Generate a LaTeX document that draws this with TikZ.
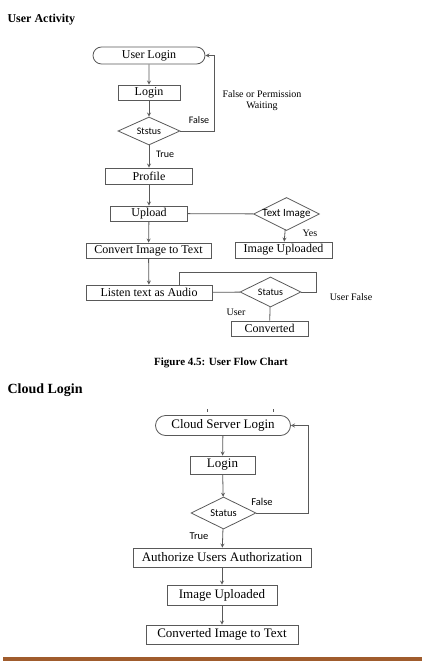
\documentclass[tikz,border=0pt]{standalone}
\usepackage{fontspec}
\setmainfont{Liberation Serif}
\newfontfamily\lblfont{Carlito}
\usepackage{tikz}
\usetikzlibrary{shapes.geometric,shapes.misc}

\definecolor{linegray}{gray}{0.35}
\definecolor{rulebrown}{RGB}{160,92,45}

\begin{document}
\begin{tikzpicture}[x=1pt,y=-1pt,>=stealth,
    box/.style={draw=linegray,thick,inner sep=0pt,minimum height=15pt,font=\fontsize{12}{14}\selectfont},
    term/.style={draw=linegray,thick,rounded rectangle,inner sep=0pt,font=\fontsize{12}{14}\selectfont},
    decision/.style={draw=linegray,thick,diamond,aspect=2,inner sep=0pt,font=\lblfont\fontsize{10}{11}\selectfont},
    big/.style={font=\fontsize{13}{15}\selectfont},
    conn/.style={draw=linegray,thick},
    tag/.style={font=\lblfont\fontsize{10}{11}\selectfont},
    note/.style={font=\fontsize{10}{11}\selectfont,align=center}]
    \useasboundingbox (0,0) rectangle (422,663);
    % Headings
    \node[anchor=west,font=\bfseries\fontsize{12}{14}\selectfont] (hua) at (4,20) {User Activity};
    \node[font=\bfseries\fontsize{11}{13}\selectfont] (cap) at (221,363) {Figure 4.5: User Flow Chart};
    \node[anchor=west,font=\bfseries\fontsize{14}{16}\selectfont] (hcl) at (4,390) {Cloud Login};
    % User flow
    \node[term,minimum width=112pt,minimum height=17pt] (ul) at (149,55.5) {User Login};
    \node[box,minimum width=62pt] (l1) at (149,92.5) {Login};
    \node[decision,minimum width=62pt,minimum height=28pt] (s1) at (149,131) {Ststus};
    \node[box,minimum width=87pt,minimum height=16pt] (prof) at (149,176) {Profile};
    \node[box,minimum width=77pt] (up) at (149,213.5) {Upload};
    \node[decision,minimum width=61pt,minimum height=28pt,font=\lblfont\fontsize{11}{12}\selectfont] (ti) at (286.5,214) {Text Image};
    \node[box,minimum width=97pt,minimum height=16pt] (iu1) at (283.5,250) {Image Uploaded};
    \node[box,minimum width=125pt,minimum height=15pt] (conv) at (148.5,250.5) {Convert Image to Text};
    \node[box,minimum width=126pt] (lis) at (149,292.5) {Listen text as Audio};
    \node[decision,minimum width=61pt,minimum height=30pt] (st2) at (270.5,292) {Status};
    \node[box,minimum width=77pt] (cv) at (269.5,328.5) {Converted};
    % User flow connectors
    \draw[conn,->] (ul) -- (l1);
    \draw[conn,->] (l1) -- (s1);
    \draw[conn,->] (s1.east) -- ++(34,0) |- (ul.east);
    \draw[conn,->] (s1) -- (prof);
    \draw[conn,->] (prof) -- (up);
    \draw[conn] (up) -- (ti);
    \draw[conn,->] (ti) -- (iu1);
    \draw[conn,->] (up) -- (conv);
    \draw[conn,->] (conv) -- (lis);
    \draw[conn] (lis) -- (st2);
    \draw[conn] (st2.east) -- ++(15,0) |- ([xshift=30pt,yshift=12pt]lis.north) -- ([xshift=30pt]lis.north);
    \draw[conn] (st2) -- (cv);
    % User flow labels
    \node[tag] (tf1) at (199,120) {False};
    \node[note] (tfp) at (262,101) {False or Permission\\Waiting};
    \node[tag] (tt1) at (165,154) {True};
    \node[note] (ty) at (310,233) {Yes};
    \node[note] (tuf) at (351,297) {User False};
    \node[note] (tu) at (236,312) {User};
    % Cloud flow
    \draw[linegray] (207,409) -- (207,412) (273,409) -- (273,412);
    \node[term,big,minimum width=135pt,minimum height=20pt] (csl) at (223,425.5) {Cloud Server Login};
    \node[box,big,minimum width=65pt,minimum height=18pt] (l2) at (222.5,465) {Login};
    \node[decision,minimum width=65pt,minimum height=32pt,font=\lblfont\fontsize{10.5}{12}\selectfont] (s2) at (223.5,513) {Status};
    \node[box,big,minimum width=178pt,minimum height=19pt] (auth) at (222,557.5) {Authorize Users Authorization};
    \node[box,big,minimum width=110pt,minimum height=20pt] (iu2) at (222,595) {Image Uploaded};
    \node[box,big,minimum width=152pt,minimum height=19pt] (cit) at (222,634.5) {Converted Image to Text};
    % Cloud flow connectors
    \draw[conn,->] (csl) -- (l2);
    \draw[conn,->] (l2) -- (s2);
    \draw[conn,->] (s2.east) -- ++(52,0) |- (csl.east);
    \draw[conn,->] (s2) -- (auth);
    \draw[conn,->] (auth) -- (iu2);
    \draw[conn,->] (iu2) -- (cit);
    % Cloud flow labels
    \node[tag,font=\lblfont\fontsize{10.5}{12}\selectfont] (tf2) at (262,502) {False};
    \node[tag,font=\lblfont\fontsize{10.5}{12}\selectfont] (tt2) at (199,536) {True};
    % Bottom rule
    \fill[rulebrown] (3,656.5) rectangle (422,660.5);
\end{tikzpicture}
\end{document}
